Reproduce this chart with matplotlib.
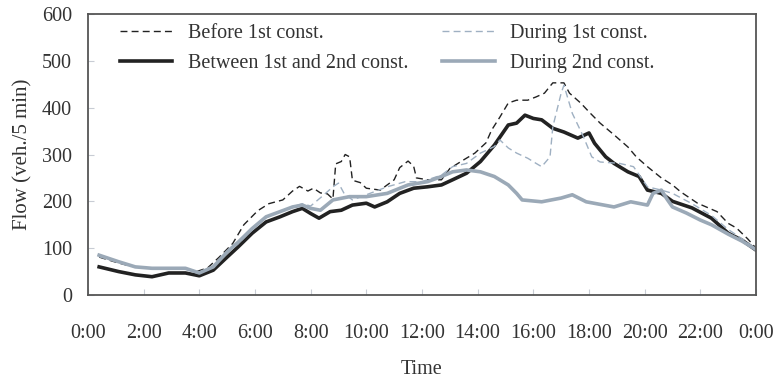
import matplotlib.pyplot as plt

# hours of day, flow in veh./5 min
before_t = [0.4, 1.0, 1.5, 2.0, 2.5, 3.0, 3.5, 3.9, 4.3, 4.7, 5.2, 5.6, 6.1, 6.5, 7.0, 7.35,
            7.6, 7.9, 8.1, 8.35, 8.6, 8.8, 8.9, 9.1, 9.24, 9.4, 9.5, 9.78, 10.0, 10.5, 11.0,
            11.2, 11.5, 11.7, 11.8, 12.2, 12.7, 13.0, 13.4, 13.9, 14.3, 14.5, 14.8, 15.1,
            15.4, 15.8, 16.1, 16.4, 16.7, 17.1, 17.3, 17.7, 18.05, 18.4, 18.9, 19.4, 19.7,
            20.1, 20.6, 21.0, 21.3, 21.9, 22.6, 23.0, 23.3, 23.7, 24.0]
before_v = [81, 70, 62, 58, 57, 58, 57, 50, 58, 80, 110, 150, 180, 195, 203, 222,
            232, 222, 228, 218, 216, 205, 280, 285, 300, 295, 245, 240, 228, 224, 246,
            272, 286, 275, 250, 246, 246, 270, 285, 303, 325, 352, 380, 410,
            416, 416, 423, 431, 453, 453, 431, 410, 388, 367, 342, 316, 295,
            274, 250, 235, 220, 196, 178, 153, 143, 120, 100]

between_t = [0.4, 1.1, 1.7, 2.3, 2.9, 3.5, 4.0, 4.5, 5.0, 5.4, 5.9, 6.4, 6.9, 7.35, 7.7, 8.0,
             8.3, 8.7, 9.1, 9.5, 10.0, 10.3, 10.75, 11.2, 11.7, 12.2, 12.7, 13.1, 13.6, 14.1,
             14.6, 15.1, 15.4, 15.7, 16.0, 16.3, 16.7, 17.1, 17.6, 18.0, 18.2, 18.6, 18.9,
             19.4, 19.8, 20.1, 20.6, 21.0, 21.7, 22.4, 23.0, 23.5, 24.0]
between_v = [60, 50, 43, 39, 47, 47, 41, 53, 81, 103, 132, 156, 167, 178, 185, 174,
             164, 178, 181, 192, 196, 188, 199, 217, 228, 231, 235, 246, 260, 285,
             320, 363, 367, 384, 377, 374, 356, 348, 335, 346, 324, 295, 281,
             263, 253, 224, 217, 200, 186, 164, 132, 117, 96]

during1_t = [0.4, 1.1, 1.7, 2.3, 3.0, 3.5, 4.0, 4.5, 5.0, 5.4, 5.9, 6.4, 6.9, 7.35, 7.7, 8.0,
             8.4, 8.8, 9.0, 9.2, 9.5, 10.0, 10.75, 11.4, 12.0, 12.7, 13.1, 13.6, 14.1, 14.6,
             14.8, 15.1, 15.4, 15.8, 16.1, 16.3, 16.6, 16.7, 17.0, 17.1, 17.4, 17.8, 18.1,
             18.4, 19.1, 19.6, 20.1, 20.6, 21.0, 21.7, 22.4, 23.0, 23.5, 24.0]
during1_v = [82, 70, 60, 57, 57, 55, 48, 60, 90, 110, 140, 165, 178, 188, 195, 190,
             210, 231, 239, 217, 203, 214, 231, 242, 242, 256, 274, 281, 303, 317,
             331, 314, 303, 292, 281, 274, 295, 359, 431, 448, 388, 338, 295,
             284, 281, 274, 231, 224, 217, 195, 170, 140, 120, 98]

during2_t = [0.4, 1.1, 1.7, 2.3, 3.5, 4.0, 4.5, 5.0, 5.4, 5.9, 6.4, 6.9, 7.35, 7.7, 8.0, 8.35,
             8.8, 9.4, 10.0, 10.75, 11.5, 12.2, 12.7, 13.1, 13.6, 14.1, 14.6, 15.1, 15.4,
             15.6, 16.3, 17.0, 17.4, 17.9, 18.9, 19.5, 20.1, 20.3, 20.6, 20.8, 21.0, 21.5,
             22.0, 22.4, 23.0, 23.5, 24.0]
during2_v = [85, 71, 60, 57, 57, 47, 60, 92, 113, 142, 167, 178, 188, 192, 185, 181,
             203, 210, 210, 217, 235, 242, 253, 263, 267, 263, 253, 235, 217,
             203, 199, 207, 214, 199, 188, 199, 192, 217, 224, 205, 188, 175,
             160, 150, 130, 115, 97]

x_ticks = list(range(0, 25, 2))
x_labels = ['0:00', '2:00', '4:00', '6:00', '8:00', '10:00', '12:00', '14:00',
            '16:00', '18:00', '20:00', '22:00', '0:00']

plt.rcParams['font.family'] = ['Liberation Serif', 'DejaVu Serif']
text_color = '#333333'

fig = plt.figure(figsize=(7.76, 3.83), dpi=100)
ax = fig.add_axes([0.1134, 0.2298, 0.8608, 0.7336])

ax.plot(before_t, before_v, color='#222222', lw=1.0, ls=(0, (5, 3)), label='Before 1st const.')
ax.plot(between_t, between_v, color='#222222', lw=2.6, label='Between 1st and 2nd const.')
ax.plot(during1_t, during1_v, color='#9fb0c2', lw=1.0, ls=(0, (5, 3)), label='During 1st const.')
ax.plot(during2_t, during2_v, color='#9ba9b7', lw=2.6, label='During 2nd const.')

ax.set_xlim(0, 24)
ax.set_ylim(0, 600)
ax.set_xticks(x_ticks)
ax.set_xticklabels(x_labels)
ax.set_yticks(range(0, 601, 100))
ax.tick_params(axis='x', direction='in', length=4, color='#c8ccd4', pad=21,
               labelsize=14.5, labelcolor=text_color)
ax.tick_params(axis='y', direction='in', length=4, color='#c8ccd4', pad=11.5,
               labelsize=14.5, labelcolor=text_color)
for s in ax.spines.values():
    s.set_color('#555555')
    s.set_linewidth(1.3)

ax.set_xlabel('Time', fontsize=14.5, color=text_color, labelpad=12)
ax.set_ylabel('Flow (veh./5 min)', fontsize=15, color=text_color, labelpad=7)

# two columns: Before/Between on the left, During on the right
handles, labels = ax.get_legend_handles_labels()
ax.legend(handles, labels, ncol=2, loc='upper left', frameon=False, fontsize=14.5,
          handlelength=2.6, columnspacing=1.7, labelspacing=0.55, handletextpad=0.75,
          borderaxespad=0, bbox_to_anchor=(0.036, 0.995), labelcolor=text_color)

plt.savefig('out.png', dpi=100)
